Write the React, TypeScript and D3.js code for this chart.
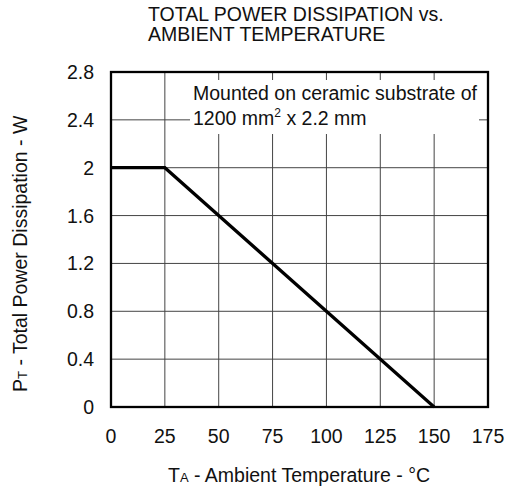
import React from "react";
import * as d3 from "d3";

const temps = [0, 25, 150];
const power = [2, 2, 0];
const xTicks = [0, 25, 50, 75, 100, 125, 150, 175];
const yTicks = [0, 0.4, 0.8, 1.2, 1.6, 2, 2.4, 2.8];
const yTickLabels = ["0", "0.4", "0.8", "1.2", "1.6", "2", "2.4", "2.8"];
const titleLines = ["TOTAL POWER DISSIPATION vs.", "AMBIENT TEMPERATURE"];
const noteLine1 = "Mounted on ceramic substrate of";

const W = 510;
const H = 491;
const L = 111, R = 488, T = 72, B = 407;
const FONT = "Liberation Sans, Arial, sans-serif";
const FS = 19.5;

export default function App() {
  const x = d3.scaleLinear().domain([0, 175]).range([L, R]);
  const y = d3.scaleLinear().domain([0, 2.8]).range([B, T]);
  const line = d3
    .line<number>()
    .x((_, i) => x(temps[i]))
    .y((d) => y(d));

  return (
    <svg
      width={W}
      height={H}
      style={{ position: "absolute", left: 0, top: 0, background: "#fff" }}
      fontFamily={FONT}
    >
      <rect x={0} y={0} width={W} height={H} fill="#fff" />
      {/* title */}
      {titleLines.map((t, i) => (
        <text key={i} x={148} y={21 + i * 20} fontSize={FS} fill="#111">
          {t}
        </text>
      ))}
      {/* grid */}
      {xTicks.slice(1, -1).map((t) => (
        <line key={"gx" + t} x1={x(t)} x2={x(t)} y1={T} y2={B} stroke="#444" strokeWidth={1} />
      ))}
      {yTicks.slice(1, -1).map((t) => (
        <line key={"gy" + t} x1={L} x2={R} y1={y(t)} y2={y(t)} stroke="#444" strokeWidth={1} />
      ))}
      {/* note box */}
      <rect x={190} y={80} width={289} height={54} fill="#fff" />
      <text x={193} y={100} fontSize={FS} fill="#111">
        {noteLine1}
      </text>
      <text x={193} y={125} fontSize={FS} fill="#111">
        1200 mm<tspan dy={-8} fontSize={12}>2</tspan>
        <tspan dy={8}> x 2.2 mm</tspan>
      </text>
      {/* data line */}
      <path d={line(power) || ""} fill="none" stroke="#000" strokeWidth={3.2} />
      {/* frame */}
      <rect x={L} y={T} width={R - L} height={B - T} fill="none" stroke="#000" strokeWidth={2.3} />
      {/* x tick labels */}
      {xTicks.map((t) => (
        <text key={"xt" + t} x={x(t)} y={443} fontSize={FS} textAnchor="middle" fill="#111">
          {t}
        </text>
      ))}
      {/* y tick labels */}
      {yTicks.map((t, i) => (
        <text key={"yt" + t} x={94} y={y(t) + 7} fontSize={FS} textAnchor="end" fill="#111">
          {yTickLabels[i]}
        </text>
      ))}
      {/* x axis label */}
      <text x={168} y={482} fontSize={FS} fill="#111">
        T<tspan fontSize={13}>A</tspan> - Ambient Temperature - °C
      </text>
      {/* y axis label */}
      <text
        transform={`translate(27, 392) rotate(-90)`}
        fontSize={FS}
        fill="#111"
      >
        P<tspan fontSize={13}>T</tspan> - Total Power Dissipation - W
      </text>
    </svg>
  );
}
